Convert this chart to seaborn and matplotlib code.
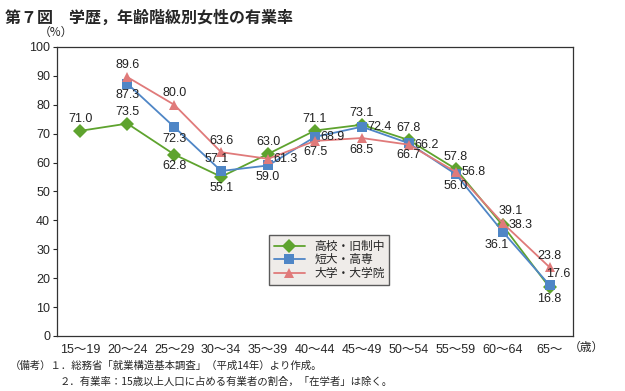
import pandas as pd
import matplotlib
matplotlib.use("Agg")
import matplotlib.pyplot as plt
import seaborn as sns

sns.set_style("white")
plt.rcParams["font.family"] = ["Noto Sans CJK JP", "DejaVu Sans"]
NUM_FONT = ["Liberation Sans", "Noto Sans CJK JP"]

ages = ["15～19", "20～24", "25～29", "30～34", "35～39", "40～44",
        "45～49", "50～54", "55～59", "60～64", "65～"]
high_school = [71.0, 73.5, 62.8, 55.1, 63.0, 71.1, 73.1, 67.8, 57.8, 38.3, 16.8]
junior_college = [None, 87.3, 72.3, 57.1, 59.0, 68.9, 72.4, 66.7, 56.0, 36.1, 17.6]
university = [None, 89.6, 80.0, 63.6, 61.3, 67.5, 68.5, 66.2, 56.8, 39.1, 23.8]
series_names = ["高校・旧制中", "短大・高専", "大学・大学院"]

# where each value label sits relative to its point
label_pos = {
    "高校・旧制中": ["a", "a", "b", "b", "a", "a", "a", "a", "a", "r", "b"],
    "短大・高専": [None, "b", "b", "al", "b", "r", "r", "b", "b", "bl", "ar"],
    "大学・大学院": [None, "a", "a", "a", "r", "b", "b", "r", "r", "ar", "a"],
}
colors = ["#5ea32e", "#4f86c6", "#e07a7a"]
markers = ["D", "s", "^"]

rows = []
for name, vals in zip(series_names, [high_school, junior_college, university]):
    for i, v in enumerate(vals):
        if v is not None:
            rows.append({"age": i, "rate": v, "series": name})
df = pd.DataFrame(rows)

fig = plt.figure(figsize=(6.25, 3.91), dpi=100)
ax = fig.add_axes([0.0912, 0.1407, 0.8256, 0.7391])

sns.lineplot(data=df, x="age", y="rate", hue="series", style="series",
             palette=colors, markers=markers, dashes=False, markersize=7,
             markeredgewidth=0, linewidth=1.3, ax=ax, legend=True)

offsets = {"a": (0, 4, "center", "bottom"), "b": (0, -4, "center", "top"),
           "r": (4, 0, "left", "center"), "al": (-3, 4, "center", "bottom"),
           "bl": (-4, -5, "center", "top"), "ar": (6, 4, "center", "bottom")}
for name in series_names:
    sub = df[df["series"] == name]
    for (_, row) in sub.iterrows():
        code = label_pos[name][int(row["age"])]
        dx, dy, ha, va = offsets[code]
        ax.annotate(f"{row['rate']:.1f}", (row["age"], row["rate"]),
                    xytext=(dx, dy), textcoords="offset points",
                    ha=ha, va=va, fontsize=9, color="#222222", family=NUM_FONT)

ax.set_xlim(-0.5, len(ages) - 0.5)
ax.set_ylim(0, 100)
ax.set_yticks(range(0, 101, 10))
ax.set_xticks(range(len(ages)))
ax.set_xticklabels(ages, fontsize=9, family=NUM_FONT)
for t in ax.get_yticklabels():
    t.set_family(NUM_FONT)
ax.set_xticks([i + 0.5 for i in range(len(ages) - 1)], minor=True)
ax.tick_params(axis="x", which="major", length=0, pad=6)
ax.tick_params(axis="x", which="minor", direction="in", length=4, color="#333333")
ax.tick_params(axis="y", direction="out", length=3, labelsize=9, pad=2, left=True)
ax.set_xlabel("")
ax.set_ylabel("")
for s in ax.spines.values():
    s.set_color("#333333")
    s.set_linewidth(0.9)

leg = ax.legend(loc="upper left", bbox_to_anchor=(0.4, 0.37), fontsize=8.5,
                frameon=True, fancybox=False, handlelength=2.6,
                borderpad=0.4, labelspacing=0.05)
leg.get_frame().set_facecolor("#ece8e4")
leg.get_frame().set_edgecolor("#333333")

fig.text(0.008, 0.975, "第７図　学歴，年齢階級別女性の有業率", fontsize=11.5,
         fontweight="bold", va="top")
fig.text(0.062, 0.9, "（%）", fontsize=8.5, va="bottom")
fig.text(0.91, 0.112, "（歳）", fontsize=8.5, va="center")
fig.text(0.016, 0.065, "（備考）１．総務省「就業構造基本調査」（平成14年）より作成。",
         fontsize=7.5, va="center")
fig.text(0.095, 0.025, "２．有業率：15歳以上人口に占める有業者の割合，「在学者」は除く。",
         fontsize=7.5, va="center")

fig.savefig("out.png", dpi=100)
